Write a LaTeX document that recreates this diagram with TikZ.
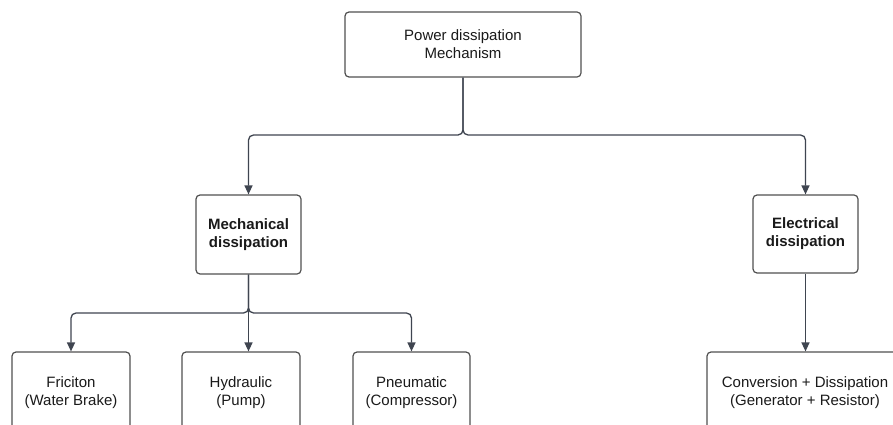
\documentclass[tikz,border=0pt]{standalone}
\usepackage{fontspec}
\setmainfont{Liberation Sans}
\usetikzlibrary{arrows.meta}
\definecolor{edge}{HTML}{3F4550}
\definecolor{frame}{HTML}{505050}
\definecolor{ink}{HTML}{1A1A1A}
\tikzset{
  box/.style={draw=frame, line width=1.2pt, rounded corners=4pt, fill=white,
    align=center, inner sep=0pt, text=ink, font=\fontsize{15}{18}\selectfont},
  boldbox/.style={box, font=\fontsize{15}{18}\selectfont\bfseries},
  conn/.style={draw=edge, line width=1.3pt, rounded corners=5pt,
    -{Triangle[width=8pt,length=9pt]}},
}
\begin{document}
\begin{tikzpicture}[x=1pt,y=-1pt]
  \clip (0,0) rectangle (893,425);
  \fill[white] (0,0) rectangle (893,425);

  % top level
  \node[box, minimum width=236pt, minimum height=65pt] (root) at (463,44.5)
    {Power dissipation\\Mechanism};

  % second level
  \node[boldbox, minimum width=105pt, minimum height=79pt] (mech) at (248.5,234.5)
    {Mechanical\\dissipation};
  \node[boldbox, minimum width=105pt, minimum height=78pt] (elec) at (805.5,234)
    {Electrical\\dissipation};

  % third level
  \node[box, minimum width=118pt, minimum height=81pt] (fric) at (71,392.5)
    {Friciton\\(Water Brake)};
  \node[box, minimum width=118pt, minimum height=81pt] (hydr) at (241,392.5)
    {Hydraulic\\(Pump)};
  \node[box, minimum width=117pt, minimum height=81pt] (pneu) at (411.5,392.5)
    {Pneumatic\\(Compressor)};
  \node[box, minimum width=196pt, minimum height=81pt] (conv) at (805,392.5)
    {Conversion + Dissipation\\(Generator + Resistor)};

  % connectors
  \coordinate (hub) at (463,135);
  \coordinate (mhub) at (248.5,313);
  \draw[conn] (root.south) -- (hub) -| (mech.north);
  \draw[conn] (root.south) -- (hub) -| (elec.north);
  \draw[conn] (mech.south) -- (mhub) -| (fric.north);
  \draw[conn] (mech.south) -- (mhub) -| (pneu.north);
  \draw[conn] (mech.south) -- (mech.south |- hydr.north);
  \draw[conn] (elec.south) -- (elec.south |- conv.north);
\end{tikzpicture}
\end{document}
